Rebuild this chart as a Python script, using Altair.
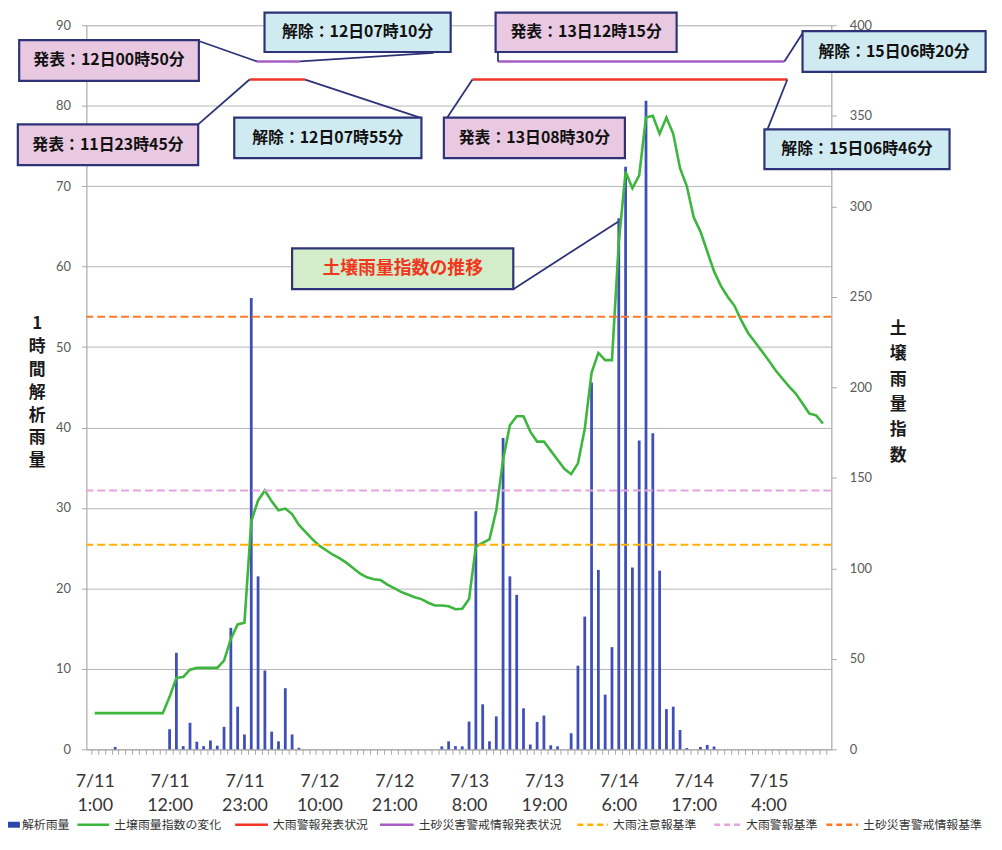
import re
import altair as alt
import pandas as pd

JP = "Noto Sans CJK JP"
NUM = "Lato"
W, H = 751, 730
PXH = W / 108.0

# ---------------- data ----------------
hours = list(range(108))  # 0 = 7/11 1:00 ... 107 = 7/15 12:00
soil_index = [
    20, 20, 20, 20, 20, 20, 20, 20, 20, 20, 20, 29, 39.5, 40, 44, 45, 45, 45, 45, 49,
    61, 69, 70, 126, 137.5, 143, 137, 132, 133, 130, 124, 120, 116, 112.5, 110, 107.5, 105.5, 103, 100, 97,
    95, 94, 93.5, 91, 89, 87, 85.5, 84, 83, 81, 79.5, 79.5, 79, 77.4, 77.7, 83, 112, 114, 116, 132,
    160, 179, 184, 184, 175.5, 170, 170, 165, 160, 155, 152, 158, 177, 208, 219, 215, 215, 280, 319, 310,
    317, 349, 350, 340, 349, 340, 321, 311, 294, 286, 275, 264, 256, 250, 245, 237, 230, 225, 220, 215,
    209.5, 205, 200.5, 196.5, 191, 185.5, 184.5, 180,
]
rain_hours = [3, 11, 12, 13, 14, 15, 16, 17, 18, 19, 20, 21, 22, 23, 24, 25, 26, 27, 28, 29, 30,
              51, 52, 53, 54, 55, 56, 57, 58, 59, 60, 61, 62, 63, 64, 65, 66, 67, 68,
              70, 71, 72, 73, 74, 75, 76, 77, 78, 79, 80, 81, 82, 83, 84, 85, 86, 87,
              89, 90, 91]
rain_mm = [0.3, 2.5, 12.0, 0.4, 3.3, 0.95, 0.4, 1.1, 0.45, 2.8, 15.1, 5.3, 1.85, 56.1, 21.5, 9.8, 2.2, 1.0, 7.6, 1.85, 0.2,
           0.37, 1.0, 0.4, 0.37, 3.45, 29.6, 5.6, 1.0, 4.1, 38.7, 21.5, 19.2, 5.1, 0.6, 3.4, 4.2, 0.5, 0.37,
           2.0, 10.4, 16.5, 45.6, 22.3, 6.8, 12.7, 66.0, 72.4, 22.6, 38.4, 80.6, 39.3, 22.2, 5.0, 5.3, 2.4, 0.16,
           0.3, 0.55, 0.35]

label_hours = [0, 11, 22, 33, 44, 55, 66, 77, 88, 99]
label_dates = ["7/11", "7/11", "7/11", "7/12", "7/12", "7/13", "7/13", "7/14", "7/14", "7/15"]
label_times = ["1:00", "12:00", "23:00", "10:00", "21:00", "8:00", "19:00", "6:00", "17:00", "4:00"]

thr_names = ["大雨注意報基準", "大雨警報基準", "土砂災害警戒情報基準"]
thr_values = [113, 143, 239]
thr_colors = ["#ffb000", "#e4a4de", "#ff7a26"]

# warning periods: (start, end) as text
heavy_rain_start = ["11日23時45分", "13日08時30分"]
heavy_rain_end = ["12日07時55分", "15日06時46分"]
landslide_start = ["12日00時50分", "13日12時15分"]
landslide_end = ["12日07時10分", "15日06時20分"]
heavy_rain_level = 370
landslide_level = 380
RED = "#ef3526"
PURPLE = "#a85cc6"


def to_hour(s):
    d, h, m = [int(v) for v in re.findall(r"\d+", s)]
    return (d - 11) * 24 + h + m / 60.0 - 1


events = pd.DataFrame({
    "start": [to_hour(s) for s in heavy_rain_start + landslide_start],
    "end": [to_hour(s) for s in heavy_rain_end + landslide_end],
    "level": [heavy_rain_level] * 2 + [landslide_level] * 2,
    "color": [RED] * 2 + [PURPLE] * 2,
})

PINK, BLUE, GREENBOX = "#e9c9e2", "#cfeaf1", "#d3ecc9"
box_text = ["発表：12日00時50分", "解除：12日07時10分", "発表：11日23時45分", "解除：12日07時55分",
            "発表：13日12時15分", "解除：15日06時20分", "発表：13日08時30分", "解除：15日06時46分",
            "土壌雨量指数の推移"]
box_x1 = [-11.1, 24.95, -11.3, 20.5, 58.9, 104.0, 51.3, 98.4, 29.0]
box_x2 = [15.3, 52.3, 15.2, 48.0, 85.5, 130.9, 77.9, 125.6, 61.5]
box_top = [391.8, 407.0, 345.2, 349.0, 407.0, 396.7, 349.0, 342.5, 276.7]
box_bot = [369.3, 385.2, 322.7, 326.6, 385.2, 374.2, 326.6, 320.5, 254.2]
box_fill = [PINK, BLUE, PINK, BLUE, PINK, BLUE, PINK, BLUE, GREENBOX]
box_tcolor = ["#111111"] * 8 + ["#f0361c"]

boxes = pd.DataFrame({"text": box_text, "x1": box_x1, "x2": box_x2, "y1": box_top, "y2": box_bot,
                      "fill": box_fill, "tcolor": box_tcolor})
boxes["cx"] = (boxes.x1 + boxes.x2) / 2
boxes["cy"] = (boxes.y1 + boxes.y2) / 2
boxes["size"] = [16] * 8 + [18]

# connectors: from event point to box
conn_x1 = [to_hour(landslide_start[0]), to_hour(landslide_end[0]), to_hour(heavy_rain_start[0]),
           to_hour(heavy_rain_end[0]), to_hour(landslide_start[1]), to_hour(landslide_end[1]),
           to_hour(heavy_rain_start[1]), to_hour(heavy_rain_end[1]), 61.5]
conn_y1 = [380, 380, 370, 370, 380, 380, 370, 370, 254.2]
conn_x2 = [15.3, 49.8, 15.2, 47.8, 59.25, 104.0, 51.8, 98.85, 76.9]
conn_y2 = [391.3, 384.7, 345.2, 349.0, 385.2, 395.6, 349.0, 342.5, 291.5]
conns = pd.DataFrame({"x1": conn_x1, "y1": conn_y1, "x2": conn_x2, "y2": conn_y2})

soil_df = pd.DataFrame({"hour": hours, "v": soil_index})
rain_df = pd.DataFrame({"hour": rain_hours, "mm": rain_mm})
thr_df = pd.DataFrame({"name": thr_names, "v": thr_values, "color": thr_colors})

# ---------------- scales / axes ----------------
x_scale = alt.Scale(domain=[-0.5, 107.5], nice=False, zero=False)
yl_scale = alt.Scale(domain=[0, 90], nice=False, zero=True)
yr_scale = alt.Scale(domain=[0, 400], nice=False, zero=True)

parts = [f"datum.value == {h - 0.5} ? ['{d}', '{t}']" for h, d, t in zip(label_hours, label_dates, label_times)]
label_expr = " : ".join(parts) + " : ''"

GRAY = "#a8a8a8"
x_axis = alt.Axis(values=[i - 0.5 for i in range(109)], labelExpr=label_expr, labelOffset=PXH / 2,
                  tickSize=5, tickColor=GRAY, domainColor=GRAY, grid=False, title=None,
                  labelFont=NUM, labelFontSize=18, labelColor="#363636", labelLineHeight=25,
                  labelBaseline="top", labelPadding=18, labelOverlap=False, labelFlush=False,
                  labelBound=False, labelAlign="center")

left_axis = alt.Axis(values=list(range(0, 91, 10)), grid=True, gridColor="#b5b5b5", gridWidth=1,
                     tickSize=5, tickColor=GRAY, domainColor=GRAY, labelFont=NUM, labelFontSize=13,
                     labelColor="#5a5a5a", labelPadding=11,
                     title=["1", "時", "間", "解", "析", "雨", "量"], titleAngle=0, titleX=-50, titleY=301,
                     titleFont=JP, titleFontSize=17, titleFontWeight="bold", titleLineHeight=23,
                     titleBaseline="middle", titleAlign="center", titleColor="#1a1a1a")

right_axis = alt.Axis(orient="right", values=list(range(0, 401, 50)), grid=False, tickSize=5,
                      tickColor=GRAY, domainColor=GRAY, labelFont=NUM, labelFontSize=13,
                      labelColor="#5a5a5a", labelPadding=13,
                      title=["土", "壌", "雨", "量", "指", "数"], titleAngle=0, titleX=67, titleY=306,
                      titleFont=JP, titleFontSize=17, titleFontWeight="bold", titleLineHeight=25.5,
                      titleBaseline="middle", titleAlign="center", titleColor="#1a1a1a")


def X(field):
    return alt.X(field, scale=x_scale, axis=x_axis)


def YR(field):
    return alt.Y(field, scale=yr_scale, axis=right_axis)


# ---------------- layers ----------------
bars = alt.Chart(rain_df).mark_bar(size=2.8, color="#3f4fb8").encode(
    x=X("hour:Q"),
    y=alt.Y("mm:Q", scale=yl_scale, axis=left_axis),
)

soil = alt.Chart(soil_df).mark_line(color="#3cb63c", strokeWidth=2.6).encode(
    x=X("hour:Q"), y=YR("v:Q"),
)

thr = alt.Chart(thr_df).mark_rule(strokeDash=[8, 4], strokeWidth=2).encode(
    y=YR("v:Q"), color=alt.Color("color:N", scale=None),
)

ev = alt.Chart(events).mark_rule(strokeWidth=2.5).encode(
    x=X("start:Q"), x2="end:Q", y=YR("level:Q"),
    color=alt.Color("color:N", scale=None),
)

conn = alt.Chart(conns).mark_rule(strokeWidth=1.8, color="#2e3378").encode(
    x=X("x1:Q"), x2="x2:Q", y=YR("y1:Q"), y2="y2:Q",
)

box = alt.Chart(boxes).mark_rect(stroke="#2e3378", strokeWidth=2.2).encode(
    x=X("x1:Q"), x2="x2:Q", y=YR("y1:Q"), y2="y2:Q",
    fill=alt.Fill("fill:N", scale=None),
)

box_lbl = alt.Chart(boxes).mark_text(font=JP, fontWeight="bold", baseline="middle", align="center").encode(
    x=X("cx:Q"), y=YR("cy:Q"),
    text="text:N",
    size=alt.Size("size:Q", scale=None),
    color=alt.Color("tcolor:N", scale=None),
)

# ---------------- legend (manual, bottom) ----------------
one = pd.DataFrame({"a": [0]})
LY = 806
legend_items = [
    ("解析雨量", "#2f47a8", None, -79, -67, -65, 6),
    ("土壌雨量指数の変化", "#3cb63c", None, -9, 23, 28, 2.5),
    ("大雨警報発表状況", RED, None, 150, 183, 188, 2.5),
    ("土砂災害警戒情報発表状況", PURPLE, None, 296, 330, 335, 2.5),
    (thr_names[0], thr_colors[0], [6, 4], 495, 526, 531, 2.5),
    (thr_names[1], thr_colors[1], [6, 4], 633, 660, 665, 2.5),
    (thr_names[2], thr_colors[2], [6, 4], 746, 778, 783, 2.5),
]
legend_layers = []
for name, col, dash, a, b, tx, sw in legend_items:
    kw = {"strokeWidth": sw, "color": col}
    if dash:
        kw["strokeDash"] = dash
    legend_layers.append(alt.Chart(one).mark_rule(**kw).encode(
        x=alt.value(a), x2=alt.value(b), y=alt.value(LY)))
    legend_layers.append(alt.Chart(one).mark_text(
        text=name, font=JP, fontSize=12, align="left", baseline="middle", color="#333333").encode(
        x=alt.value(tx), y=alt.value(LY)))

right_group = alt.layer(soil, thr, ev, conn, box, box_lbl, *legend_layers)

chart = alt.layer(bars, right_group).resolve_scale(y="independent").properties(
    width=W, height=H,
    autosize=alt.AutoSizeParams(type="none"),
    padding={"left": 79, "top": 14, "right": 164, "bottom": 84},
).configure_view(stroke=None).configure(background="white")

chart.save("out.html", embed_options={"renderer": "svg", "actions": False})
